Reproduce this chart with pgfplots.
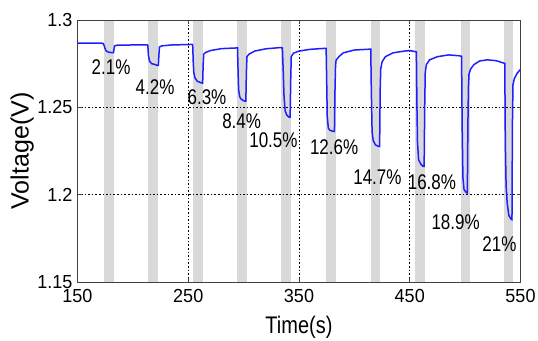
\documentclass[border=0pt]{standalone}
\usepackage{fontspec}
\setmainfont{Liberation Sans}
\usepackage{pgfplots}
\pgfplotsset{compat=1.18}
\definecolor{barg}{RGB}{217,217,217}
\definecolor{lineblue}{RGB}{30,30,255}
\begin{document}
\begin{tikzpicture}
\begin{axis}[
  name=ax, set layers,
  scale only axis, width=443pt, height=262pt,
  xmin=150, xmax=550, ymin=1.15, ymax=1.3,
  xtick={150,250,350,450,550},
  ytick={1.15,1.2,1.25,1.3},
  yticklabels={1.15,1.2,1.25,1.3},
  xticklabels={150,250,350,450,550},
  tick align=inside, major tick length=4pt,
  axis line style={black!75, line width=0.8pt},
  tick style={black!75, line width=0.6pt},
  grid=major,
  major grid style={black, dash pattern=on 1.6pt off 2pt, line width=0.7pt},
  ticklabel style={font=\fontsize{18}{18}\selectfont, yscale=1.05},
  yticklabel style={inner sep=0pt, xshift=-5pt},
  xticklabel style={inner sep=0pt, yshift=-7pt},
  xlabel={Time(s)}, ylabel={Voltage(V)},
  xlabel style={font=\fontsize{20}{20}\selectfont, yscale=1.2, at={(axis description cs:0.5,-0.172)}, anchor=center},
  ylabel style={font=\fontsize{25}{25}\selectfont, at={(axis description cs:-0.125,0.5)}, anchor=center},
]
% gray pulse bars
\addplot[fill=barg, draw=none, on layer=axis background] coordinates {(174,1.15) (183,1.15) (183,1.3) (174,1.3)} -- cycle;
\addplot[fill=barg, draw=none, on layer=axis background] coordinates {(214,1.15) (223,1.15) (223,1.3) (214,1.3)} -- cycle;
\addplot[fill=barg, draw=none, on layer=axis background] coordinates {(254,1.15) (263.5,1.15) (263.5,1.3) (254,1.3)} -- cycle;
\addplot[fill=barg, draw=none, on layer=axis background] coordinates {(294,1.15) (303,1.15) (303,1.3) (294,1.3)} -- cycle;
\addplot[fill=barg, draw=none, on layer=axis background] coordinates {(334,1.15) (343,1.15) (343,1.3) (334,1.3)} -- cycle;
\addplot[fill=barg, draw=none, on layer=axis background] coordinates {(374,1.15) (383,1.15) (383,1.3) (374,1.3)} -- cycle;
\addplot[fill=barg, draw=none, on layer=axis background] coordinates {(415,1.15) (423.5,1.15) (423.5,1.3) (415,1.3)} -- cycle;
\addplot[fill=barg, draw=none, on layer=axis background] coordinates {(455,1.15) (463.5,1.15) (463.5,1.3) (455,1.3)} -- cycle;
\addplot[fill=barg, draw=none, on layer=axis background] coordinates {(496,1.15) (504,1.15) (504,1.3) (496,1.3)} -- cycle;
\addplot[fill=barg, draw=none, on layer=axis background] coordinates {(535,1.15) (543,1.15) (543,1.3) (535,1.3)} -- cycle;
% voltage curve
\addplot[lineblue, line width=1.5pt] coordinates {
(150,1.2867) (172,1.2867)
(173,1.2866) (174,1.2855) (175,1.2835) (176,1.2822) (178,1.2816) (181,1.2813) (182.5,1.2813) (183,1.2835) (183.5,1.2852) (186,1.2856) (200,1.2857) (213,1.2857)
(213.5,1.2855) (214,1.2800) (215,1.2765) (217,1.2750) (220,1.2745) (222,1.2740) (223,1.2740) (223.5,1.2800) (224,1.2845) (226,1.2852) (235,1.2857) (253.5,1.2860)
(254,1.2858) (254.5,1.2760) (255,1.2700) (256,1.2670) (258,1.2650) (261,1.2642) (263,1.2638) (263.5,1.2750) (264,1.2805) (266,1.2815) (270,1.2825) (280,1.2836) (290,1.2839) (294,1.2840)
(294.5,1.2840) (295,1.2700) (295.5,1.2600) (296.5,1.2560) (298,1.2545) (301,1.2535) (302,1.2535) (302.5,1.2700) (303,1.2790) (305,1.2805) (310,1.2822) (320,1.2835) (333,1.2842)
(335,1.2840) (335.8,1.2700) (336.5,1.2560) (337.5,1.2480) (339,1.2455) (341,1.2444) (342,1.2444) (342.5,1.2650) (343,1.2790) (345,1.2810) (350,1.2822) (360,1.2832) (374,1.2838)
(374.5,1.2838) (375,1.2650) (375.5,1.2450) (376.5,1.2380) (378,1.2368) (381,1.2362) (382,1.2362) (382.5,1.2600) (383,1.2740) (383.5,1.2770) (386,1.2790) (390,1.2812) (400,1.2828) (414,1.2833)
(414.8,1.2833) (415.3,1.2600) (416,1.2360) (417,1.2310) (419,1.2285) (422,1.2276) (422.8,1.2276) (423.3,1.2600) (423.8,1.2720) (425,1.2760) (428,1.2790) (435,1.2812) (445,1.2822) (450,1.2825) (454,1.2820) (455.5,1.2818)
(456,1.2818) (456.5,1.2500) (457,1.2300) (458,1.2200) (460,1.2175) (462,1.2162) (463,1.2162) (463.5,1.2500) (464,1.2700) (465,1.2745) (468,1.2772) (475,1.2790) (485,1.2800) (495,1.2795) (496.5,1.2792)
(496.8,1.2792) (497.3,1.2400) (498,1.2100) (499,1.2030) (501,1.2012) (502,1.2010) (502.5,1.2400) (503,1.2620) (503.5,1.2690) (505,1.2720) (508,1.2745) (513,1.2765) (520,1.2772) (528,1.2767) (534,1.2755) (535.5,1.2752)
(535.8,1.2752) (536.3,1.2300) (537,1.2050) (538,1.1950) (539.5,1.1880) (541.5,1.1860) (542.3,1.1857) (542.7,1.2400) (543.2,1.2630) (544.5,1.2665) (547,1.2695) (549.5,1.2714) (550,1.2716)
};
% percentage labels
\begin{scope}[font=\fontsize{17}{17}\selectfont, inner sep=0pt, every node/.style={yscale=1.25}]
\node at (axis cs:180.3,1.2729) {2.1\%};
\node at (axis cs:220,1.2614) {4.2\%};
\node at (axis cs:266.9,1.2557) {6.3\%};
\node at (axis cs:298.2,1.2419) {8.4\%};
\node at (axis cs:326.9,1.2310) {10.5\%};
\node at (axis cs:381.7,1.2271) {12.6\%};
\node at (axis cs:420.8,1.2100) {14.7\%};
\node at (axis cs:470,1.2071) {16.8\%};
\node at (axis cs:491.4,1.1840) {18.9\%};
\node at (axis cs:531,1.1714) {21\%};
\end{scope}
\end{axis}
\pgfresetboundingbox
\path ([shift={(-77.5pt,-59pt)}]ax.south west) rectangle ([shift={(17.5pt,20pt)}]ax.north east);
\end{tikzpicture}
\end{document}
